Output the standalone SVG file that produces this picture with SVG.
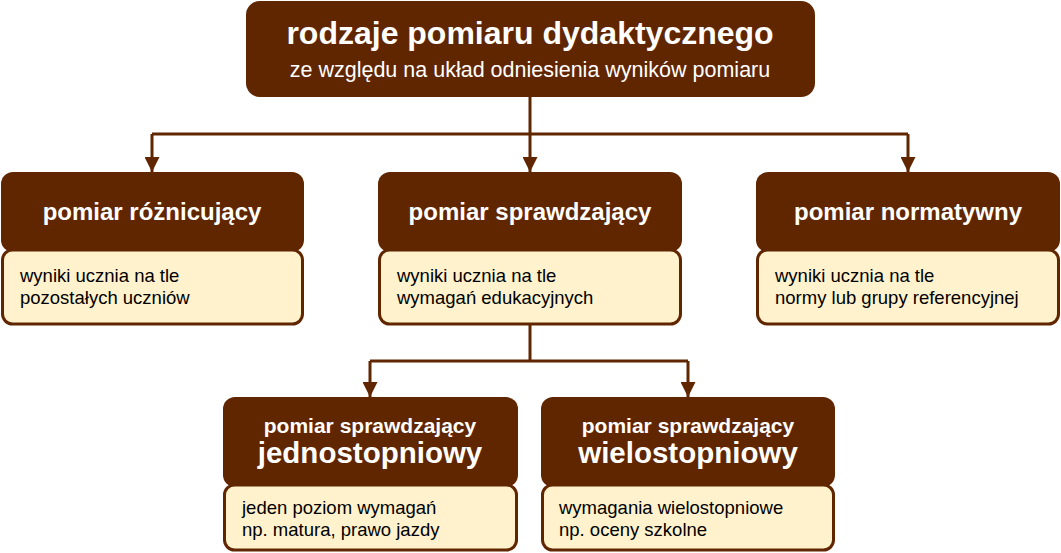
<svg xmlns="http://www.w3.org/2000/svg" width="1061" height="553" viewBox="0 0 1061 553">
<defs>
<style>
.dk{fill:#602600;}
.lt{fill:#fff2cc;stroke:#602600;stroke-width:3;}
.hd{font-family:"Liberation Sans",Arial,sans-serif;font-weight:bold;fill:#ffffff;text-anchor:middle;}
.sub{font-family:"Liberation Sans",Arial,sans-serif;font-weight:normal;fill:#ffffff;text-anchor:middle;}
.bd{font-family:"Liberation Sans",Arial,sans-serif;font-size:18.5px;fill:#000000;}
.ln{fill:none;stroke:#602600;stroke-width:3;}
</style>
<marker id="ah" viewBox="0 0 10 10" refX="10" refY="5" markerWidth="5" markerHeight="5" markerUnits="strokeWidth" orient="auto">
<path d="M0,0 L10,5 L0,10 Z" fill="#602600"/>
</marker>
</defs>
<rect width="1061" height="553" fill="#ffffff"/>
<g id="connectors">
<path class="ln" d="M530,97 V134"/>
<path class="ln" d="M152,134 H908"/>
<path class="ln" d="M152,134 V172" marker-end="url(#ah)"/>
<path class="ln" d="M530,134 V172" marker-end="url(#ah)"/>
<path class="ln" d="M908,134 V172" marker-end="url(#ah)"/>
<path class="ln" d="M530,325 V361"/>
<path class="ln" d="M370,361 H688"/>
<path class="ln" d="M370,361 V397" marker-end="url(#ah)"/>
<path class="ln" d="M688,361 V397" marker-end="url(#ah)"/>
</g>
<g id="root">
<rect class="dk" x="246" y="1" width="569" height="96" rx="14"/>
<text class="hd" x="530" y="44" font-size="32">rodzaje pomiaru dydaktycznego</text>
<text class="sub" x="530" y="77" font-size="21.5">ze względu na układ odniesienia wyników pomiaru</text>
</g>
<g id="n1">
<rect class="dk" x="1" y="172" width="303" height="80" rx="12"/>
<rect class="lt" x="2.5" y="250" width="300" height="74" rx="10"/>
<text class="hd" x="152" y="220" font-size="24">pomiar różnicujący</text>
<text class="bd" x="20" y="282">wyniki ucznia na tle</text>
<text class="bd" x="20" y="304">pozostałych uczniów</text>
</g>
<g id="n2">
<rect class="dk" x="378" y="172" width="304" height="80" rx="12"/>
<rect class="lt" x="379.5" y="250" width="301" height="74" rx="10"/>
<text class="hd" x="530" y="220" font-size="24">pomiar sprawdzający</text>
<text class="bd" x="397" y="282">wyniki ucznia na tle</text>
<text class="bd" x="397" y="304">wymagań edukacyjnych</text>
</g>
<g id="n3">
<rect class="dk" x="756" y="172" width="304" height="80" rx="12"/>
<rect class="lt" x="757.5" y="250" width="301" height="74" rx="10"/>
<text class="hd" x="908" y="220" font-size="24">pomiar normatywny</text>
<text class="bd" x="775" y="282">wyniki ucznia na tle</text>
<text class="bd" x="775" y="304">normy lub grupy referencyjnej</text>
</g>
<g id="n4">
<rect class="dk" x="223" y="397" width="295" height="90" rx="12"/>
<rect class="lt" x="224.5" y="485" width="292" height="65" rx="10"/>
<text class="hd" x="370" y="433" font-size="21">pomiar sprawdzający</text>
<text class="hd" x="370" y="463" font-size="29.5">jednostopniowy</text>
<text class="bd" x="242" y="514">jeden poziom wymagań</text>
<text class="bd" x="242" y="536">np. matura, prawo jazdy</text>
</g>
<g id="n5">
<rect class="dk" x="541" y="397" width="294" height="90" rx="12"/>
<rect class="lt" x="542.5" y="485" width="291" height="65" rx="10"/>
<text class="hd" x="688" y="433" font-size="21">pomiar sprawdzający</text>
<text class="hd" x="688" y="463" font-size="29.5">wielostopniowy</text>
<text class="bd" x="559" y="514">wymagania wielostopniowe</text>
<text class="bd" x="559" y="536">np. oceny szkolne</text>
</g>
</svg>
